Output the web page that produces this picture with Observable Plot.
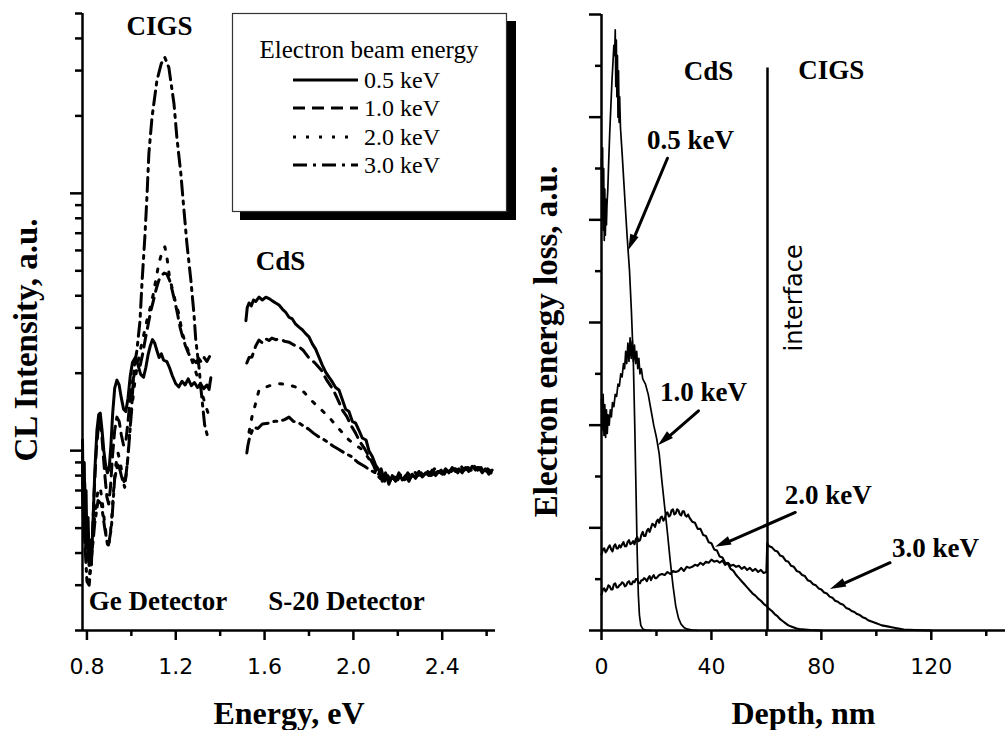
<!DOCTYPE html>
<html><head><meta charset="utf-8">
<script src="https://cdn.jsdelivr.net/npm/d3@7"></script>
<script src="https://cdn.jsdelivr.net/npm/@observablehq/plot@0.6"></script>
<style>
html,body{margin:0;padding:0;background:#fff;}
#wrap{position:relative;width:1008px;height:730px;overflow:hidden;background:#fff;}
#wrap svg{position:absolute;top:0;}
</style></head><body><div id="wrap"></div>
<script>
// ---------- DATA ----------
const beams = ["0.5 keV", "1.0 keV", "2.0 keV", "3.0 keV"];

// Left panel: CL intensity (a.u., log) vs photon energy (eV); Ge detector segment
const cl05Ge = [[0.780,1.1],[0.784,0.55],[0.788,0.9],[0.792,0.45],[0.796,0.7],[0.800,0.42],[0.805,0.55],[0.810,0.37],[0.815,0.45],[0.820,0.36],[0.828,0.55],[0.836,0.85],[0.845,1.2],[0.853,1.38],[0.860,1.4],[0.868,1.2],[0.876,1.0],[0.884,0.88],[0.892,0.82],[0.900,0.85],[0.908,1.05],[0.916,1.4],[0.925,1.75],[0.935,1.88],[0.945,1.8],[0.955,1.6],[0.965,1.45],[0.975,1.42],[0.985,1.6],[0.995,1.95],[1.005,2.2],[1.018,2.3],[1.030,2.15],[1.042,1.98],[1.055,1.93],[1.065,2.1],[1.075,2.35],[1.085,2.55],[1.095,2.7],[1.105,2.62],[1.115,2.45],[1.125,2.3],[1.135,2.38],[1.145,2.25],[1.160,2.22],[1.172,2.1],[1.185,1.95],[1.200,1.82],[1.214,1.77],[1.228,1.86],[1.242,1.8],[1.256,1.9],[1.270,1.79],[1.284,1.84],[1.298,1.76],[1.312,1.82],[1.326,1.74],[1.340,1.8],[1.350,1.73],[1.358,1.92]];
const cl10Ge = [[0.780,0.95],[0.785,0.5],[0.790,0.75],[0.795,0.42],[0.800,0.55],[0.806,0.38],[0.812,0.44],[0.818,0.36],[0.825,0.48],[0.833,0.7],[0.842,1.0],[0.850,1.2],[0.858,1.32],[0.866,1.18],[0.874,0.95],[0.882,0.78],[0.890,0.66],[0.898,0.62],[0.906,0.72],[0.915,0.95],[0.925,1.2],[0.935,1.35],[0.945,1.3],[0.955,1.15],[0.965,1.05],[0.975,1.08],[0.985,1.3],[0.995,1.6],[1.005,1.85],[1.015,2.0],[1.028,2.1],[1.040,2.15],[1.052,2.4],[1.064,2.75],[1.076,3.1],[1.088,3.5],[1.100,3.85],[1.112,4.25],[1.124,4.6],[1.136,4.8],[1.148,4.9],[1.160,4.85],[1.172,4.6],[1.184,4.2],[1.196,3.8],[1.208,3.4],[1.220,3.0],[1.232,2.75],[1.244,2.55],[1.256,2.4],[1.268,2.3],[1.280,2.25],[1.292,2.2],[1.304,2.28],[1.316,2.2],[1.328,2.3],[1.340,2.22],[1.352,2.32]];
const cl20Ge = [[0.780,0.85],[0.786,0.46],[0.792,0.62],[0.798,0.36],[0.805,0.42],[0.812,0.33],[0.820,0.38],[0.830,0.5],[0.840,0.62],[0.850,0.7],[0.860,0.72],[0.870,0.62],[0.880,0.52],[0.890,0.45],[0.900,0.44],[0.910,0.52],[0.920,0.7],[0.930,0.88],[0.940,0.98],[0.950,0.9],[0.960,0.8],[0.970,0.74],[0.980,0.85],[0.990,1.1],[1.000,1.4],[1.012,1.75],[1.025,2.1],[1.040,2.45],[1.055,2.8],[1.070,3.2],[1.085,3.6],[1.100,4.1],[1.112,4.7],[1.124,5.35],[1.138,5.9],[1.151,6.2],[1.162,5.5],[1.172,4.7],[1.186,4.2],[1.200,3.74],[1.214,3.4],[1.228,2.9],[1.244,2.6],[1.260,2.4],[1.276,2.2],[1.292,2.0],[1.306,1.85],[1.320,1.65],[1.334,1.5],[1.348,1.38]];
const cl30Ge = [[0.780,0.7],[0.790,0.45],[0.800,0.31],[0.810,0.3],[0.820,0.38],[0.835,0.52],[0.850,0.64],[0.865,0.62],[0.880,0.5],[0.895,0.42],[0.910,0.5],[0.925,0.78],[0.940,0.9],[0.955,0.8],[0.970,0.72],[0.985,0.95],[1.000,1.4],[1.012,2.1],[1.025,2.45],[1.039,3.2],[1.048,4.5],[1.061,6.8],[1.070,9.6],[1.079,14.3],[1.093,19.7],[1.115,27.4],[1.135,32],[1.151,33.7],[1.169,30.8],[1.192,22.3],[1.205,16.5],[1.223,11.9],[1.237,8.6],[1.250,6.4],[1.268,4.6],[1.282,3.4],[1.290,2.7],[1.305,2.1],[1.314,1.72],[1.330,1.26],[1.345,1.12]];

// S-20 detector segment
const cl05S20 = [[1.516,3.2],[1.522,3.6],[1.530,3.75],[1.540,3.65],[1.550,3.85],[1.560,3.8],[1.575,3.95],[1.590,3.85],[1.606,3.95],[1.620,3.9],[1.635,3.82],[1.650,3.75],[1.665,3.68],[1.680,3.55],[1.695,3.45],[1.710,3.3],[1.725,3.25],[1.740,3.1],[1.755,3.02],[1.770,2.95],[1.785,2.85],[1.800,2.77],[1.815,2.6],[1.830,2.48],[1.845,2.31],[1.860,2.15],[1.875,2.02],[1.890,1.93],[1.905,1.85],[1.920,1.76],[1.935,1.72],[1.950,1.58],[1.965,1.45],[1.980,1.42],[1.995,1.3],[2.010,1.28],[2.025,1.2],[2.040,1.12],[2.057,1.10],[2.070,1.0],[2.085,0.95],[2.100,0.88],[2.115,0.84],[2.130,0.76],[2.145,0.82],[2.160,0.74],[2.175,0.8],[2.190,0.76],[2.205,0.82],[2.220,0.77],[2.235,0.8],[2.250,0.76],[2.265,0.81],[2.280,0.78],[2.295,0.83],[2.310,0.79],[2.325,0.82],[2.340,0.8],[2.355,0.84],[2.370,0.8],[2.385,0.83],[2.400,0.81],[2.415,0.85],[2.430,0.82],[2.445,0.86],[2.460,0.83],[2.475,0.85],[2.490,0.82],[2.505,0.86],[2.520,0.83],[2.535,0.87],[2.550,0.84],[2.565,0.86],[2.580,0.82],[2.595,0.85],[2.610,0.81],[2.625,0.84]];
const cl10S20 = [[1.520,2.19],[1.530,2.3],[1.543,2.31],[1.560,2.55],[1.575,2.69],[1.590,2.62],[1.605,2.72],[1.620,2.68],[1.633,2.74],[1.650,2.7],[1.670,2.72],[1.690,2.66],[1.710,2.64],[1.730,2.58],[1.755,2.53],[1.775,2.45],[1.800,2.29],[1.825,2.2],[1.855,2.06],[1.880,1.88],[1.910,1.72],[1.930,1.58],[1.950,1.44],[1.970,1.36],[1.990,1.25],[2.010,1.17],[2.030,1.08],[2.050,1.02],[2.070,0.95],[2.090,0.88],[2.110,0.8],[2.125,0.85],[2.140,0.76],[2.155,0.8],[2.170,0.75],[2.185,0.79],[2.200,0.77],[2.215,0.81],[2.230,0.78],[2.245,0.82],[2.260,0.79],[2.275,0.83],[2.290,0.8],[2.305,0.82],[2.320,0.79],[2.335,0.83],[2.350,0.81],[2.365,0.85],[2.380,0.82],[2.395,0.84],[2.410,0.81],[2.425,0.86],[2.440,0.83],[2.455,0.85],[2.470,0.82],[2.485,0.87],[2.500,0.84],[2.515,0.86],[2.530,0.83],[2.545,0.87],[2.560,0.84],[2.575,0.86],[2.590,0.82],[2.605,0.85],[2.620,0.83]];
const cl20S20 = [[1.530,1.18],[1.543,1.35],[1.560,1.53],[1.575,1.72],[1.600,1.76],[1.633,1.8],[1.670,1.82],[1.710,1.8],[1.755,1.75],[1.780,1.68],[1.800,1.6],[1.845,1.47],[1.890,1.35],[1.926,1.24],[1.960,1.15],[1.980,1.10],[2.010,1.05],[2.040,1.01],[2.070,0.93],[2.100,0.85],[2.130,0.79],[2.160,0.76],[2.190,0.78],[2.220,0.8],[2.250,0.78],[2.280,0.81],[2.310,0.8],[2.340,0.82],[2.370,0.81],[2.400,0.83],[2.430,0.82],[2.460,0.85],[2.490,0.83],[2.520,0.86],[2.550,0.84],[2.580,0.85],[2.610,0.83]];
const cl30S20 = [[1.520,0.98],[1.525,1.05],[1.530,1.10],[1.540,1.17],[1.550,1.23],[1.570,1.22],[1.590,1.27],[1.620,1.28],[1.645,1.3],[1.665,1.30],[1.690,1.32],[1.710,1.35],[1.730,1.3],[1.755,1.28],[1.780,1.24],[1.800,1.21],[1.820,1.17],[1.845,1.13],[1.870,1.1],[1.890,1.07],[1.910,1.04],[1.935,1.01],[1.960,0.98],[1.990,0.95],[2.020,0.9],[2.050,0.87],[2.075,0.84],[2.100,0.82],[2.120,0.78],[2.140,0.8],[2.170,0.77],[2.200,0.79],[2.230,0.77],[2.260,0.8],[2.290,0.79],[2.320,0.81],[2.350,0.8],[2.380,0.83],[2.410,0.82],[2.440,0.84],[2.470,0.83],[2.500,0.85],[2.530,0.84],[2.560,0.86],[2.590,0.84],[2.620,0.82]];

// Right panel: electron energy loss (a.u.) vs depth (nm)
const loss05 = [[0,4.6],[0.2,4.0],[0.4,4.7],[0.6,3.9],[0.8,4.5],[1.0,3.8],[1.2,4.3],[1.4,3.85],[1.6,4.2],[1.8,3.95],[2.0,4.15],[2.3,4.3],[2.6,4.55],[3.0,4.85],[3.4,5.1],[3.8,5.35],[4.2,5.55],[4.5,5.7],[4.8,5.6],[5.0,5.85],[5.2,5.3],[5.4,5.75],[5.6,5.2],[5.8,5.6],[6.0,5.0],[6.2,5.45],[6.4,4.95],[6.6,5.2],[6.9,4.9],[7.5,4.65],[8.5,4.2],[9.3,3.85],[10.2,3.5],[10.9,3.1],[11.6,2.6],[12.1,2.0],[12.6,1.3],[13.0,0.75],[13.4,0.35],[13.8,0.15],[14.3,0.05],[15,0.015],[16,0.005],[18,0]];
const loss10 = [[0,2.25],[0.3,1.95],[0.6,2.3],[0.9,1.9],[1.2,2.2],[1.5,1.88],[1.8,2.15],[2.1,1.92],[2.4,2.1],[2.8,2.0],[3.2,2.15],[3.6,2.08],[4.0,2.22],[4.5,2.18],[5.0,2.3],[5.5,2.28],[6.0,2.4],[6.5,2.38],[7.0,2.5],[7.5,2.47],[8.0,2.6],[8.4,2.55],[8.8,2.72],[9.2,2.6],[9.6,2.8],[10.0,2.62],[10.4,2.85],[10.8,2.65],[11.2,2.82],[11.6,2.62],[12.0,2.78],[12.4,2.6],[12.8,2.72],[13.2,2.55],[13.6,2.65],[14.0,2.5],[14.5,2.55],[15,2.45],[16,2.4],[17,2.3],[18,2.15],[19,2.0],[20,1.88],[21,1.72],[22,1.45],[23,1.2],[24,0.95],[25,0.68],[26,0.44],[27,0.24],[28,0.12],[29,0.06],[30,0.03],[31,0.015],[33,0.005],[35,0]];
const loss20 = [[0,0.74],[0.5,0.79],[1,0.80],[1.5,0.76],[2,0.78],[2.5,0.81],[3,0.83],[3.5,0.79],[4,0.77],[4.5,0.82],[5,0.84],[5.5,0.8],[6,0.80],[6.5,0.83],[7,0.81],[7.5,0.84],[8,0.86],[8.5,0.82],[9,0.82],[9.5,0.86],[10,0.88],[10.5,0.84],[11,0.85],[11.5,0.87],[12,0.84],[12.5,0.89],[13,0.91],[13.5,0.87],[14,0.88],[14.5,0.93],[15,0.96],[15.5,0.92],[16,0.92],[16.5,0.97],[17,0.99],[17.5,0.96],[18,1.0],[18.5,1.04],[19,1.03],[19.5,1.01],[20,1.06],[20.5,1.08],[21,1.05],[21.5,1.1],[22,1.11],[22.5,1.07],[23,1.09],[23.5,1.14],[24,1.15],[24.5,1.11],[25,1.12],[25.5,1.17],[26,1.18],[26.5,1.13],[27,1.14],[27.5,1.18],[28,1.17],[28.5,1.13],[29,1.12],[29.5,1.16],[30,1.16],[30.5,1.12],[31,1.11],[31.5,1.13],[32,1.1],[33,1.06],[34,1.05],[35,0.99],[36,0.99],[37,0.93],[38,0.92],[39,0.86],[40,0.85],[41,0.79],[42,0.78],[43,0.72],[44,0.71],[45,0.66],[46,0.65],[47,0.6],[48,0.58],[49,0.54],[50,0.51],[51,0.48],[52,0.45],[53,0.42],[54,0.39],[55,0.36],[56,0.34],[57,0.31],[58,0.29],[59,0.26],[60,0.24],[61,0.21],[62,0.19],[63,0.16],[64,0.14],[65,0.11],[66,0.09],[67,0.07],[68,0.05],[69,0.04],[70,0.03],[71,0.02],[72,0.015],[74,0.01],[76,0.005],[80,0]];
const loss30 = [[0,0.35],[0.5,0.4],[1,0.41],[1.5,0.38],[2,0.40],[2.5,0.44],[3,0.43],[3.5,0.4],[4,0.40],[4.5,0.45],[5,0.46],[5.5,0.42],[6,0.42],[6.5,0.44],[7,0.45],[7.5,0.47],[8,0.46],[8.5,0.43],[9,0.44],[9.5,0.47],[10,0.48],[10.5,0.45],[11,0.45],[11.5,0.48],[12,0.47],[12.5,0.5],[13,0.5],[13.5,0.46],[14,0.46],[14.5,0.49],[15,0.49],[15.5,0.51],[16,0.5],[16.5,0.48],[17,0.51],[17.5,0.53],[18,0.49],[18.5,0.52],[19,0.54],[19.5,0.51],[20,0.51],[21,0.54],[22,0.55],[23,0.54],[24,0.57],[25,0.55],[26,0.58],[27,0.57],[28,0.58],[29,0.61],[30,0.58],[31,0.62],[32,0.61],[33,0.62],[34,0.64],[35,0.63],[36,0.66],[37,0.64],[38,0.67],[39,0.66],[40,0.69],[41,0.67],[42,0.68],[43,0.66],[44,0.68],[45,0.64],[46,0.66],[47,0.63],[48,0.64],[49,0.62],[50,0.63],[51,0.6],[52,0.62],[53,0.59],[54,0.61],[55,0.58],[56,0.6],[57,0.57],[58,0.59],[59,0.56],[60,0.57],[60.3,0.85],[61,0.82],[62,0.81],[63,0.78],[64,0.77],[65,0.73],[66,0.72],[67,0.68],[68,0.67],[69,0.63],[70,0.62],[71,0.58],[72,0.57],[73,0.54],[74,0.53],[75,0.49],[76,0.48],[77,0.45],[78,0.44],[79,0.41],[80,0.4],[81,0.37],[82,0.36],[83,0.33],[84,0.32],[85,0.29],[86,0.28],[87,0.26],[88,0.25],[89,0.22],[90,0.21],[91,0.19],[92,0.18],[93,0.16],[94,0.15],[95,0.13],[96,0.12],[97,0.1],[98,0.09],[99,0.08],[100,0.07],[102,0.05],[104,0.04],[106,0.03],[108,0.02],[110,0.01],[114,0.005],[120,0]];

const interfaceDepth = 60.4;
const interfaceTop = 5.48;

// tick values
const energyMajor = [0.8, 1.2, 1.6, 2.0, 2.4];
const energyMinor = [1.0, 1.4, 1.8, 2.2, 2.6];
const clMajor = [1, 10];
const clMinor = [0.2,0.3,0.4,0.5,0.6,0.7,0.8,0.9,2,3,4,5,6,7,8,9,20,30,40,50];
const depthMajor = [0, 40, 80, 120];
const depthMinor = [20, 60, 100, 140];
const lossMajor = [0,1,2,3,4,5,6];
const lossMinor = [0.5,1.5,2.5,3.5,4.5,5.5];

// annotations (data coordinates)
const leftNotes = [
  {text: "CIGS", x: 1.127, y: 44.4},
  {text: "CdS", x: 1.672, y: 5.45},
  {text: "Ge Detector", x: 1.120, y: 0.26},
  {text: "S-20 Detector", x: 1.969, y: 0.26}
];
const rightNotes = [
  {text: "CdS", x: 38.9, y: 5.45},
  {text: "CIGS", x: 83.6, y: 5.46},
  {text: "0.5 keV", x: 32.4, y: 4.77},
  {text: "1.0 keV", x: 37.1, y: 2.32},
  {text: "2.0 keV", x: 82.5, y: 1.32},
  {text: "3.0 keV", x: 121.5, y: 0.80}
];
const rightArrows = [
  {x1: 24.0, y1: 4.6, x2: 9.9, y2: 3.7},
  {x1: 35.3, y1: 2.14, x2: 20.7, y2: 1.8},
  {x1: 70.5, y1: 1.15, x2: 41.5, y2: 0.81},
  {x1: 105, y1: 0.66, x2: 83.3, y2: 0.40}
];

// ---------- BUILD ----------
const dashes = ["none", "12,7", "3,10", "14,6,3,6"];
const serif = "'Liberation Serif', 'Times New Roman', serif";
const sans = "'DejaVu Sans', sans-serif";

const clSets = [[cl05Ge, cl05S20], [cl10Ge, cl10S20], [cl20Ge, cl20S20], [cl30Ge, cl30S20]];
const clRows = [];
clSets.forEach((pair, i) => {
  pair[0].forEach(([E, I]) => clRows.push({E, I, beam: beams[i], seg: "Ge"}));
  pair[1].forEach(([E, I]) => clRows.push({E, I, beam: beams[i], seg: "S20"}));
});
const lossSets = [loss05, loss10, loss20, loss30];
const lossWidths = [1.7, 1.7, 2.1, 2.1];
const lossRows = [];
lossSets.forEach((s, i) => s.forEach(([d, v]) => lossRows.push({d, v, beam: beams[i]})));

const blank = () => "";
const boldText = {fontFamily: serif, fontWeight: "bold", fontSize: 27, textAnchor: "middle", lineAnchor: "middle", fill: "black"};

const left = Plot.plot({
  width: 520, height: 730,
  marginLeft: 82, marginRight: 25, marginTop: 13, marginBottom: 100,
  x: {domain: [0.78, 2.64], label: null},
  y: {type: "log", domain: [0.2, 50], label: null},
  style: {fontFamily: sans, fontSize: "22px", background: "white", color: "black", overflow: "visible"},
  marks: [
    ...beams.map((b, i) => Plot.line(clRows.filter(r => r.beam === b), {
      x: "E", y: "I", z: "seg", stroke: "black", strokeWidth: 3,
      strokeDasharray: dashes[i], strokeLinejoin: "round"
    })),
    Plot.ruleX([0.78], {strokeWidth: 2.5}),
    Plot.ruleY([0.2], {strokeWidth: 2.5}),
    Plot.axisX({ticks: energyMajor, tickSize: 10, tickPadding: 18, strokeWidth: 2.5, tickFormat: d => d.toFixed(1), fontSize: 22, label: null}),
    Plot.axisX({ticks: energyMinor, tickSize: 6, strokeWidth: 2.5, tickFormat: blank, label: null}),
    Plot.axisY({ticks: clMajor, tickSize: 12, strokeWidth: 2.5, tickFormat: blank, label: null}),
    Plot.axisY({ticks: clMinor, tickSize: 7, strokeWidth: 2.5, tickFormat: blank, label: null}),
    Plot.text(leftNotes, {x: "x", y: "y", text: "text", ...boldText}),
    Plot.text(["Energy, eV"], {frameAnchor: "bottom", dy: 83, fontFamily: serif, fontWeight: "bold", fontSize: 32, textAnchor: "middle", lineAnchor: "middle"}),
    Plot.text(["CL Intensity, a.u."], {frameAnchor: "left", dx: -56, dy: 18, rotate: -90, fontFamily: serif, fontWeight: "bold", fontSize: 33, textAnchor: "middle", lineAnchor: "middle"})
  ]
});

const right = Plot.plot({
  width: 488, height: 730,
  marginLeft: 81, marginRight: 3, marginTop: 14, marginBottom: 100,
  x: {domain: [0, 147], label: null},
  y: {domain: [0, 6], label: null},
  style: {fontFamily: sans, fontSize: "22px", background: "white", color: "black", overflow: "visible"},
  marks: [
    ...beams.map((b, i) => Plot.line(lossRows.filter(r => r.beam === b), {
      x: "d", y: "v", stroke: "black", strokeWidth: lossWidths[i], strokeLinejoin: "round"
    })),
    Plot.ruleX([interfaceDepth], {y1: 0, y2: interfaceTop, strokeWidth: 2.5}),
    Plot.ruleX([0], {strokeWidth: 2.5}),
    Plot.ruleY([0], {strokeWidth: 2.5}),
    Plot.axisX({ticks: depthMajor, tickSize: 10, tickPadding: 18, strokeWidth: 2.5, tickFormat: d => String(d), fontSize: 22, label: null}),
    Plot.axisX({ticks: depthMinor, tickSize: 6, strokeWidth: 2.5, tickFormat: blank, label: null}),
    Plot.axisY({ticks: lossMajor, tickSize: 12, strokeWidth: 2.5, tickFormat: blank, label: null}),
    Plot.axisY({ticks: lossMinor, tickSize: 6, strokeWidth: 2.5, tickFormat: blank, label: null}),
    Plot.arrow(rightArrows, {x1: "x1", y1: "y1", x2: "x2", y2: "y2", strokeWidth: 3, headLength: 0, insetEnd: 10, stroke: "black"}),
    Plot.text(rightNotes, {x: "x", y: "y", text: "text", ...boldText}),
    Plot.text(["interface"], {x: () => 70.2, y: () => 3.24, rotate: -90, fontFamily: sans, fontSize: 24, textAnchor: "middle", lineAnchor: "middle"}),
    Plot.text(["Depth, nm"], {frameAnchor: "bottom", dy: 83, fontFamily: serif, fontWeight: "bold", fontSize: 32, textAnchor: "middle", lineAnchor: "middle"}),
    Plot.text(["Electron energy loss, a.u."], {frameAnchor: "left", dx: -55, dy: 19, rotate: -90, fontFamily: serif, fontWeight: "bold", fontSize: 33, textAnchor: "middle", lineAnchor: "middle"})
  ]
});

const wrap = document.getElementById("wrap");
left.style.left = "0px";
right.style.left = "520px";
wrap.appendChild(left);
wrap.appendChild(right);

// filled arrowheads, placed through the right panel's own scales
const rsx = right.scale("x"), rsy = right.scale("y");
const headLen = 16, headHalf = 4.5;
rightArrows.forEach(a => {
  const X1 = rsx.apply(a.x1), Y1 = rsy.apply(a.y1), X2 = rsx.apply(a.x2), Y2 = rsy.apply(a.y2);
  const L = Math.hypot(X2 - X1, Y2 - Y1), ux = (X2 - X1) / L, uy = (Y2 - Y1) / L;
  const bx = X2 - headLen * ux, by = Y2 - headLen * uy;
  const pts = [[X2, Y2], [bx - headHalf * uy, by + headHalf * ux], [bx + headHalf * uy, by - headHalf * ux]];
  d3.select(right).append("polygon").attr("points", pts.map(p => p.join(",")).join(" ")).attr("fill", "black");
});

// legend (overlaid on the left panel)
const leg = d3.select(wrap).append("svg")
  .attr("width", 1008).attr("height", 730)
  .style("left", "0px").style("pointer-events", "none");
leg.append("rect").attr("x", 240).attr("y", 21).attr("width", 276).attr("height", 199).attr("fill", "black");
leg.append("rect").attr("x", 232.5).attr("y", 13.5).attr("width", 274).attr("height", 198)
  .attr("fill", "white").attr("stroke", "#333").attr("stroke-width", 1.2);
leg.append("text").attr("x", 369).attr("y", 58).attr("text-anchor", "middle")
  .style("font-family", serif).style("font-size", "25px").text("Electron beam energy");
const legLineY = [80, 108, 137, 165];
beams.forEach((b, i) => {
  leg.append("line").attr("x1", 293).attr("x2", 358).attr("y1", legLineY[i]).attr("y2", legLineY[i])
    .attr("stroke", "black").attr("stroke-width", 3).attr("stroke-dasharray", dashes[i]);
  leg.append("text").attr("x", 364).attr("y", legLineY[i] + 7.5)
    .style("font-family", serif).style("font-size", "24px").text(b);
});
</script></body></html>
